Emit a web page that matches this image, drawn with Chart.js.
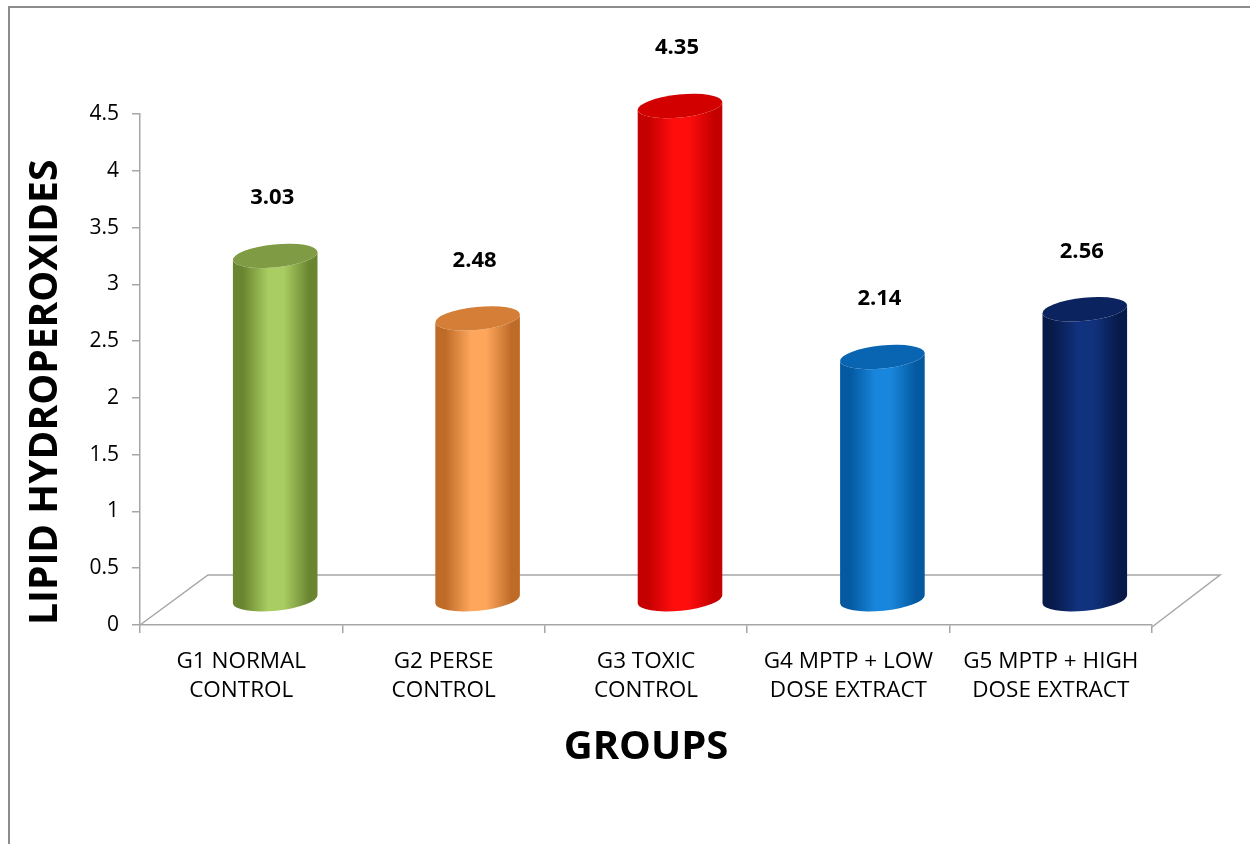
<!DOCTYPE html>
<html>
<head>
<meta charset="utf-8">
<script src="https://cdn.jsdelivr.net/npm/chart.js@4"></script>
<style>
  html, body { margin: 0; padding: 0; background: #fff; }
  #wrap { width: 1250px; height: 844px; }
</style>
</head>
<body>
<div id="wrap"><canvas id="chart"></canvas></div>
<script>
const groups = [
    ['G1 NORMAL', 'CONTROL'],
    ['G2 PERSE', 'CONTROL'],
    ['G3 TOXIC', 'CONTROL'],
    ['G4 MPTP + LOW', 'DOSE EXTRACT'],
    ['G5 MPTP + HIGH', 'DOSE EXTRACT']
];
const values = [3.03, 2.48, 4.35, 2.14, 2.56];
const yTicks = ['0', '0.5', '1', '1.5', '2', '2.5', '3', '3.5', '4', '4.5'];

// [edge, light, cap]
const colors = [
    ['#6a8530', '#a9cd62', '#7f9b44'],
    ['#bf6b28', '#fda65c', '#d47e37'],
    ['#c40000', '#ff0d0d', '#d30000'],
    ['#0459a0', '#1886dc', '#0965b2'],
    ['#071a4a', '#11327e', '#0b235e']
];

const FONT = '"Open Sans", "Noto Sans", sans-serif';
const depthX = 68, depthY = 50;   // floor depth
const tilt = -0.1;

const framePlugin = {
    id: 'frame',
    beforeDraw(chart) {
        const ctx = chart.ctx;
        ctx.save();
        ctx.strokeStyle = '#8c8c8c';
        ctx.lineWidth = 2;
        ctx.beginPath();
        ctx.moveTo(9, 844);
        ctx.lineTo(9, 7);
        ctx.lineTo(1250, 7);
        ctx.stroke();
        ctx.restore();
    },
    beforeDatasetsDraw(chart) {
        const a = chart.chartArea, ctx = chart.ctx;
        ctx.save();
        ctx.strokeStyle = '#a6a6a6';
        ctx.lineWidth = 1.5;
        ctx.beginPath();
        ctx.moveTo(a.left, a.bottom);
        ctx.lineTo(a.left + depthX, a.bottom - depthY);
        ctx.lineTo(a.right + depthX, a.bottom - depthY);
        ctx.lineTo(a.right, a.bottom + 2);
        ctx.stroke();
        ctx.restore();
    },
    afterDatasetsDraw(chart) {
        const ctx = chart.ctx;
        const meta = chart.getDatasetMeta(0);
        meta.data.forEach((bar, i) => {
            const cx = bar.x + depthX / 2;
            const top = bar.y - depthY / 2;
            const base = bar.base - depthY / 2;
            const rx = bar.width / 2, ry = 11.5;
            const ex = rx * Math.cos(tilt), ey = rx * Math.sin(tilt);
            const c = colors[i];

            const g = ctx.createLinearGradient(cx - rx, 0, cx + rx, 0);
            g.addColorStop(0, c[0]);
            g.addColorStop(0.12, c[0]);
            g.addColorStop(0.42, c[1]);
            g.addColorStop(0.6, c[1]);
            g.addColorStop(0.9, c[0]);
            g.addColorStop(1, c[0]);

            ctx.save();
            ctx.beginPath();
            ctx.moveTo(cx - ex, top - ey);
            ctx.lineTo(cx - ex, base - ey);
            ctx.ellipse(cx, base, rx, ry, tilt, Math.PI, 0, true);
            ctx.lineTo(cx + ex, top + ey);
            ctx.ellipse(cx, top, rx, ry, tilt, 0, Math.PI, false);
            ctx.closePath();
            ctx.fillStyle = g;
            ctx.fill();

            ctx.beginPath();
            ctx.ellipse(cx, top, rx, ry, tilt, 0, Math.PI * 2);
            ctx.fillStyle = c[2];
            ctx.fill();

            ctx.fillStyle = '#000';
            ctx.font = 'bold 22px ' + FONT;
            ctx.textAlign = 'center';
            ctx.textBaseline = 'middle';
            ctx.fillText(values[i].toFixed(2), cx - 3, top - 58);
            ctx.restore();
        });
    }
};

new Chart(document.getElementById('chart'), {
    type: 'bar',
    data: {
        labels: groups,
        datasets: [{
            data: values,
            backgroundColor: 'rgba(0,0,0,0)',
            borderWidth: 0,
            categoryPercentage: 1,
            barPercentage: 0.42
        }]
    },
    options: {
        responsive: true,
        maintainAspectRatio: false,
        animation: false,
        layout: { padding: { top: 114, right: 98, left: 0, bottom: 0 } },
        plugins: {
            legend: { display: false },
            tooltip: { enabled: false }
        },
        scales: {
            x: {
                afterFit: s => { s.height = 219; },
                border: { color: '#a6a6a6', width: 1.5 },
                grid: { drawOnChartArea: false, color: '#a6a6a6', tickLength: 8, lineWidth: 1.5 },
                ticks: {
                    color: '#000',
                    padding: 14,
                    maxRotation: 0,
                    font: { family: FONT, size: 22.5, lineHeight: 1.28 }
                },
                title: {
                    display: true,
                    text: 'GROUPS',
                    color: '#000',
                    font: { family: FONT, size: 40, weight: 'bold', lineHeight: 1.2 },
                    padding: { top: 0, bottom: 72 }
                }
            },
            y: {
                min: 0,
                max: 4.5,
                afterFit: s => { s.width = 140; },
                border: { color: '#a6a6a6', width: 1.5 },
                grid: { drawOnChartArea: false, color: '#a6a6a6', tickLength: 8, lineWidth: 1.5 },
                ticks: {
                    stepSize: 0.5,
                    color: '#000',
                    padding: 13,
                    font: { family: FONT, size: 21 },
                    callback: (v, i) => yTicks[i]
                },
                title: {
                    display: true,
                    align: 'start',
                    text: 'LIPID HYDROPEROXIDES',
                    color: '#000',
                    font: { family: FONT, size: 39, weight: 'bold', lineHeight: 1.2 },
                    padding: { top: 22, bottom: 0 }
                }
            }
        }
    },
    plugins: [framePlugin]
});
</script>
</body>
</html>
